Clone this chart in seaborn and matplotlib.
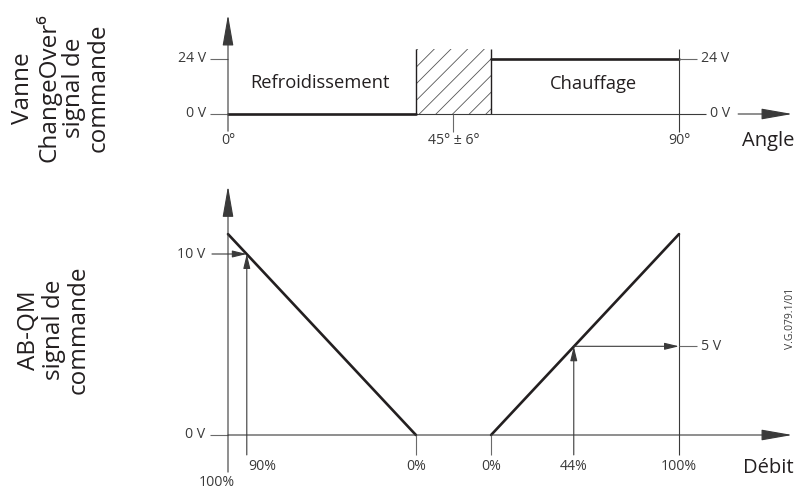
import matplotlib
matplotlib.use("Agg")
import matplotlib.pyplot as plt
import seaborn as sns
import pandas as pd

# --- top: ChangeOver valve control signal vs. angle ---
cool_angle = [0, 37.5]
cool_volt = [0, 0]
heat_angle = [52.5, 90]
heat_volt = [24, 24]
dead_band = [37.5, 52.5]          # hatched zone around 45 deg
dead_band_top = 28.4
angle_ticks = [0, 45, 90]
angle_labels = ["0°", "45° ± 6°", "90°"]

# --- bottom: AB-QM control signal vs. flow ---
cool_flow = [100, 0]
cool_signal = [11.1, 0]
heat_flow = [0, 100]
heat_signal = [0, 11.1]
cool_point = (90, 10)              # 90% flow -> 10 V
heat_point = (44, 4.9)             # 44% flow -> 5 V

INK = "#231f20"
AX = "#3a3a3a"
TICK = "#6a6a6a"
FS_TICK = 10.2
FS_TXT = 13.2
FS_AX = 14.5
FS_SIDE = 17.5

sns.set_theme(style="white")
plt.rcParams["font.family"] = ["Open Sans", "DejaVu Sans"]
plt.rcParams["hatch.linewidth"] = 0.6
plt.rcParams["hatch.color"] = "#555555"


def cool_x(f):
    return dead_band[0] * (1 - f / 100)


def heat_x(f):
    return dead_band[1] + (90 - dead_band[1]) * f / 100


def arrow(ax, x0, y0, x1, y1, big=False, color=AX):
    if big:
        style, ms = "-|>,head_length=0.97,head_width=0.17", 20
    else:
        style, ms = "-|>,head_length=0.62,head_width=0.15", 14
    ax.annotate("", xy=(x1, y1), xytext=(x0, y0), annotation_clip=False,
                arrowprops=dict(arrowstyle=style, mutation_scale=ms, lw=0.8,
                                color=color, shrinkA=0, shrinkB=0))


def seg(ax, xs, ys, color=AX, lw=0.8):
    ax.plot(xs, ys, color=color, lw=lw, solid_capstyle="butt", clip_on=False)


W, H = 795, 492
fig = plt.figure(figsize=(W / 100, H / 100), dpi=100)
fig.patch.set_facecolor("white")

# axes rects derived from pixel layout (x: 0 deg -> 228 px, 90 deg -> 679 px)
pxdeg = (679 - 228) / 90
xlim = (-15, 112.5)
left = (228 + xlim[0] * pxdeg) / W
width = (xlim[1] - xlim[0]) * pxdeg / W

# top axes: 0 V at 114 px, 24 V at 59 px
pxv1 = (114 - 59) / 24
ylim1 = (-14, 45)
ax1 = fig.add_axes([left, 1 - (114 - ylim1[0] * pxv1) / H, width,
                    (ylim1[1] - ylim1[0]) * pxv1 / H])
# bottom axes: 0 V at 435 px, 10 V at 254 px
pxv2 = (435 - 254) / 10
ylim2 = (-3.1, 14.5)
ax2 = fig.add_axes([left, 1 - (435 - ylim2[0] * pxv2) / H, width,
                    (ylim2[1] - ylim2[0]) * pxv2 / H])

# ---------------- top panel ----------------
ax = ax1
ax.fill_between(dead_band, 0, dead_band_top, facecolor="none",
                edgecolor="#555555", hatch="//", lw=0)
for xb in dead_band:
    seg(ax, [xb, xb], [0, dead_band_top], color=INK, lw=1.0)
seg(ax, [0, 95.4], [0, 0])
sns.lineplot(x=cool_angle, y=cool_volt, ax=ax, color=INK, lw=1.9)
sns.lineplot(x=heat_angle, y=heat_volt, ax=ax, color=INK, lw=1.9)
arrow(ax, 0, -7.5, 0, 43.3, big=True)
arrow(ax, 101.8, 0, 112.6, 0, big=True)
seg(ax, [90, 90], [-7.8, dead_band_top])
seg(ax, [45, 45], [0, -7.8], color=TICK)
for v, lab in zip([0, 24], ["0 V", "24 V"]):
    seg(ax, [-3.6, 0], [v, v], color=TICK)
    ax.text(-4.3, v, lab, ha="right", va="center", fontsize=FS_TICK, color=AX)
seg(ax, [90, 93.6], [24, 24], color=TICK)
ax.text(94.4, 24, "24 V", ha="left", va="center", fontsize=FS_TICK, color=AX)
ax.text(96.2, 0, "0 V", ha="left", va="center", fontsize=FS_TICK, color=AX)
for a, lab in zip(angle_ticks, angle_labels):
    ax.text(a, -11.6, lab, ha="center", va="center", fontsize=FS_TICK,
            color=AX)
ax.text(18.4, 13.5, "Refroidissement", ha="center", va="center",
        fontsize=FS_TXT, color=INK)
ax.text(73, 13.2, "Chauffage", ha="center", va="center",
        fontsize=FS_TXT, color=INK)
ax.text(107.8, -11.8, "Angle", ha="center", va="center", fontsize=FS_AX,
        color=INK)
ax.set_xlim(*xlim)
ax.set_ylim(*ylim1)
ax.axis("off")

# ---------------- bottom panel ----------------
ax = ax2
seg(ax, [90, 90], [-1.1, heat_signal[1]])
df_c = pd.DataFrame({"x": [cool_x(f) for f in cool_flow], "v": cool_signal})
df_h = pd.DataFrame({"x": [heat_x(f) for f in heat_flow], "v": heat_signal})
sns.lineplot(data=df_c, x="x", y="v", ax=ax, color=INK, lw=1.9)
sns.lineplot(data=df_h, x="x", y="v", ax=ax, color=INK, lw=1.9)
arrow(ax, 0, -2.05, 0, 13.75, big=True)
arrow(ax, 0, 0, 112.6, 0, big=True)
seg(ax, [-3.6, 0], [0, 0], color=TICK)
ax.text(-4.6, 0, "0 V", ha="right", va="center", fontsize=FS_TICK, color=AX)

cx = cool_x(cool_point[0])
arrow(ax, -3.2, cool_point[1], cx, cool_point[1])
arrow(ax, cx, -1.1, cx, cool_point[1])
ax.text(-4.6, cool_point[1], "10 V", ha="right", va="center",
        fontsize=FS_TICK, color=AX)

hx = heat_x(heat_point[0])
arrow(ax, hx, -1.1, hx, heat_point[1])
arrow(ax, hx, heat_point[1], 90, heat_point[1])
seg(ax, [90, 93.6], [heat_point[1]] * 2, color=TICK)
ax.text(94.4, heat_point[1], "5 V", ha="left", va="center",
        fontsize=FS_TICK, color=AX)

for xb in dead_band:
    seg(ax, [xb, xb], [-1.1, 0], color=TICK)

ax.text(cx + 0.3, -1.75, "90%", ha="left", va="center", fontsize=FS_TICK,
        color=AX)
ax.text(-2.2, -2.65, "100%", ha="center", va="center", fontsize=FS_TICK,
        color=AX)
ax.text(cool_x(0), -1.75, "0%", ha="center", va="center",
        fontsize=FS_TICK, color=AX)
for f in [0, heat_point[0], 100]:
    ax.text(heat_x(f), -1.75, f"{f}%", ha="center", va="center",
            fontsize=FS_TICK, color=AX)
ax.text(107.8, -1.8, "Débit", ha="center", va="center", fontsize=FS_AX,
        color=INK)
ax.text(112.3, 6.45, "V.G.079.1/01", rotation=90, ha="center", va="center",
        fontsize=7.5, color=AX)
ax.set_xlim(*xlim)
ax.set_ylim(*ylim2)
ax.axis("off")

# side titles
fig.text(61 / W, 1 - 88 / H, "Vanne\nChangeOver\u2076\nsignal de\ncommande",
         rotation=90, ha="center", va="center", multialignment="center",
         fontsize=FS_SIDE, color=INK, linespacing=1.03)
fig.text(54 / W, 1 - 330 / H, "AB-QM\nsignal de\ncommande",
         rotation=90, ha="center", va="center", multialignment="center",
         fontsize=FS_SIDE, color=INK, linespacing=1.03)

fig.savefig("out.png", dpi=100, facecolor="white")
